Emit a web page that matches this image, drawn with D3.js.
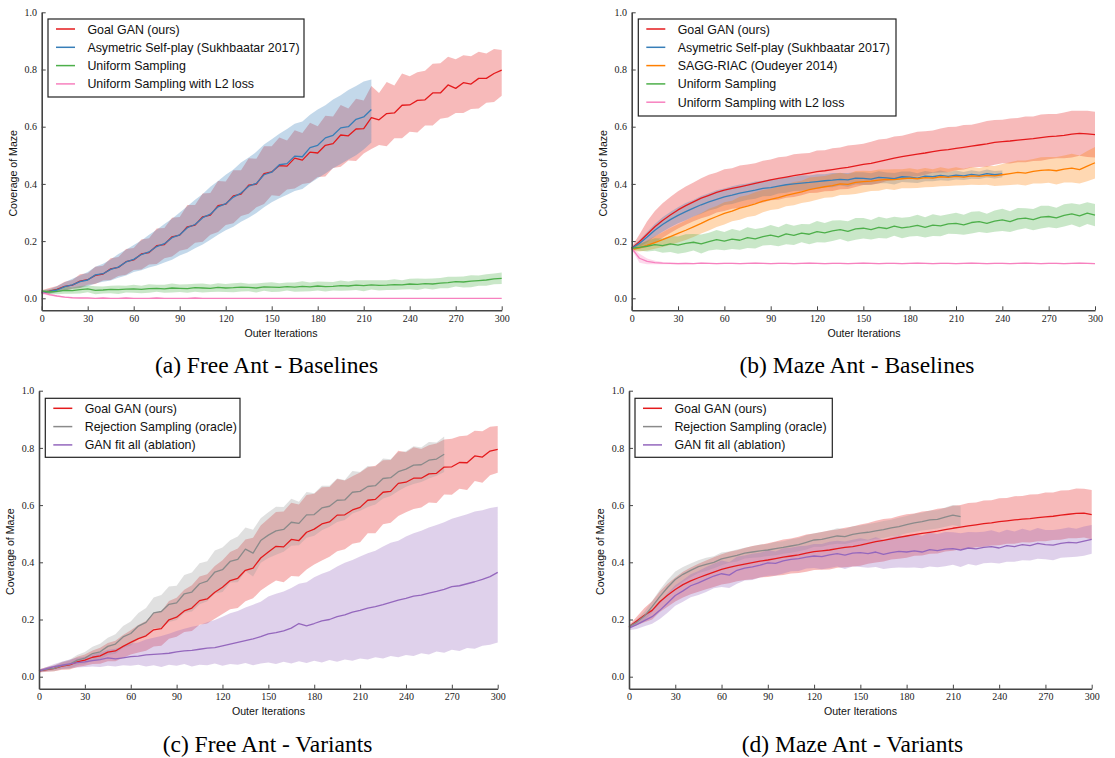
<!DOCTYPE html>
<html>
<head>
<meta charset="utf-8">
<script src="https://cdn.jsdelivr.net/npm/d3@7"></script>
<style>
  html, body { margin: 0; padding: 0; background: #fff; }
  svg { display: block; }
</style>
</head>
<body>
<svg id="chart" width="1115" height="758"></svg>
<script>
// ---------------- DATA ----------------
// Values sampled every 5 outer iterations (index i -> iteration i*5)
const ITER_STEP = 5;
const xTickValues = [0, 30, 60, 90, 120, 150, 180, 210, 240, 270, 300];
const yTickValues = [0.0, 0.2, 0.4, 0.6, 0.8, 1.0];
const xAxisTitle = "Outer Iterations";
const yAxisTitle = "Coverage of Maze";

// ---- (a) Free Ant - Baselines ----
const aGoalMean = [.020,.025,.031,.042,.046,.060,.065,.080,.085,.103,
  .108,.128,.134,.155,.160,.184,.188,.215,.221,.250,
  .256,.285,.291,.324,.329,.358,.364,.396,.399,.436,
  .442,.464,.462,.490,.483,.511,.508,.535,.541,.571,
  .568,.592,.593,.632,.624,.646,.648,.675,.676,.692,
  .694,.718,.718,.746,.734,.754,.749,.769,.769,.786,.798];
const aGoalHi = [.028,.036,.043,.058,.064,.084,.088,.110,.114,.140,
  .144,.172,.176,.206,.210,.244,.246,.282,.284,.326,
  .326,.366,.368,.410,.408,.448,.448,.490,.488,.532,
  .532,.562,.552,.588,.578,.614,.602,.638,.636,.676,
  .664,.698,.692,.742,.718,.756,.744,.786,.776,.790,
  .796,.820,.822,.845,.836,.850,.846,.862,.856,.872,.868];
const aGoalLo = [.014,.016,.024,.026,.033,.036,.047,.050,.062,.064,
  .078,.082,.099,.101,.118,.120,.140,.146,.166,.172,
  .194,.198,.222,.232,.256,.262,.288,.296,.318,.330,
  .360,.358,.380,.384,.400,.404,.424,.426,.456,.460,
  .482,.480,.506,.522,.536,.532,.560,.560,.582,.580,
  .604,.604,.628,.632,.648,.648,.662,.664,.684,.686,.708];
const aAsymMean = [.020,.024,.029,.041,.047,.058,.064,.082,.086,.101,
  .109,.127,.136,.153,.162,.181,.191,.212,.222,.247,
  .258,.282,.294,.320,.331,.354,.368,.392,.402,.432,
  .441,.467,.471,.497,.495,.527,.535,.561,.570,.596,
  .600,.626,.634,.660];
const aAsymHi = [.027,.032,.042,.056,.068,.080,.092,.110,.121,.136,
  .155,.170,.186,.202,.222,.240,.260,.278,.300,.322,
  .345,.365,.390,.410,.432,.450,.475,.492,.512,.538,
  .556,.575,.592,.610,.618,.642,.660,.675,.695,.710,
  .728,.742,.758,.765];
const aAsymLo = [.014,.016,.020,.027,.033,.036,.042,.052,.058,.062,
  .072,.080,.092,.098,.108,.115,.125,.135,.150,.160,
  .175,.188,.205,.222,.238,.250,.268,.282,.298,.318,
  .336,.350,.362,.375,.382,.402,.420,.436,.455,.470,
  .485,.500,.520,.545];
const aUnifMean = [.025,.022,.024,.028,.027,.030,.033,.028,.029,.031,
  .030,.032,.033,.031,.034,.035,.033,.036,.035,.034,
  .037,.036,.035,.038,.036,.037,.039,.038,.036,.040,
  .039,.038,.041,.039,.042,.040,.043,.041,.042,.044,
  .043,.046,.044,.047,.045,.046,.048,.047,.050,.049,
  .051,.050,.053,.055,.058,.057,.060,.062,.064,.068,.070];
const aUnifSd = [.004,.008,.010,.012,.011,.013,.012,.014,.012,.013,
  .015,.012,.014,.013,.015,.012,.014,.016,.013,.015,
  .014,.016,.013,.015,.014,.016,.015,.013,.016,.014,
  .017,.015,.014,.016,.018,.015,.016,.017,.015,.018,
  .016,.017,.019,.016,.018,.017,.019,.016,.018,.020,
  .017,.019,.018,.020,.017,.019,.021,.018,.020,.019,.020];
const aL2Mean = [.020,.013,.008,.004,.002,.001,.001,0,.001,0,
  0,.001,0,0,0,.001,0,0,0,0,
  .001,0,0,0,0,0,0,0,0,0,
  0,0,0,0,0,0,0,0,0,0,
  0,0,0,0,0,0,0,0,0,0,
  0,0,0,0,0,0,0,0,0,0,0];
const aL2Sd = [.004,.004,.003,.002,.002,.002,.001,.001,.001,.001,
  .001,.001,.001,.001,.001,.001,.001,.001,.001,.001,
  .001,.001,.001,.001,.001,.001,.001,.001,.001,.001,
  .001,.001,.001,.001,.001,.001,.001,.001,.001,.001,
  .001,.001,.001,.001,.001,.001,.001,.001,.001,.001,
  .001,.001,.001,.001,.001,.001,.001,.001,.001,.001,.001];

// ---- (b) Maze Ant - Baselines ----
const bGoalMean = [.175,.198,.224,.250,.272,.291,.309,.324,.337,.350,
  .360,.370,.378,.384,.390,.396,.402,.408,.414,.419,
  .424,.429,.433,.438,.443,.446,.450,.454,.458,.463,
  .468,.472,.478,.484,.490,.495,.500,.504,.508,.513,
  .517,.520,.524,.528,.532,.536,.540,.545,.548,.550,
  .553,.556,.558,.562,.565,.567,.570,.574,.577,.575,.572];
const bGoalSd = [.005,.025,.045,.055,.060,.063,.065,.067,.068,.070,
  .072,.070,.073,.071,.074,.072,.070,.073,.071,.074,
  .072,.075,.073,.070,.074,.072,.075,.073,.076,.074,
  .072,.075,.077,.074,.076,.073,.075,.078,.076,.074,
  .077,.079,.076,.078,.075,.077,.080,.078,.076,.079,
  .077,.080,.078,.081,.079,.077,.080,.082,.079,.081,.080];
const bAsymMean = [.175,.192,.214,.238,.258,.275,.290,.303,.315,.327,
  .337,.346,.355,.361,.368,.373,.378,.384,.387,.392,
  .397,.400,.403,.405,.408,.411,.413,.416,.414,.420,
  .419,.417,.423,.421,.418,.425,.424,.420,.427,.425,
  .430,.426,.431,.428,.433,.430,.436,.432,.435];
const bAsymSd = [.004,.012,.018,.022,.025,.027,.028,.030,.029,.031,
  .030,.032,.029,.031,.030,.028,.030,.027,.029,.026,
  .028,.025,.027,.024,.026,.023,.025,.022,.024,.021,
  .022,.020,.021,.019,.020,.018,.019,.017,.018,.016,
  .017,.015,.016,.014,.015,.013,.014,.013,.012];
const bSaggMean = [.170,.176,.185,.195,.205,.216,.227,.238,.250,.262,
  .275,.286,.297,.305,.315,.322,.330,.340,.346,.352,
  .360,.366,.372,.380,.385,.390,.394,.400,.398,.405,
  .408,.410,.413,.416,.415,.418,.420,.418,.422,.420,
  .425,.423,.426,.424,.428,.426,.430,.428,.432,.436,
  .440,.438,.444,.447,.449,.446,.452,.455,.450,.462,.474];
const bSaggSd = [.005,.012,.018,.022,.026,.030,.032,.034,.036,.035,
  .038,.037,.039,.036,.040,.038,.041,.039,.037,.040,
  .038,.041,.039,.042,.040,.038,.041,.039,.036,.040,
  .038,.035,.037,.034,.036,.033,.035,.032,.034,.031,
  .033,.030,.032,.029,.031,.030,.033,.035,.038,.040,
  .042,.044,.043,.046,.045,.048,.047,.050,.049,.053,.055];
const bUnifMean = [.175,.178,.182,.188,.184,.190,.186,.192,.196,.190,
  .198,.205,.200,.207,.203,.212,.208,.216,.221,.215,
  .225,.220,.228,.224,.233,.229,.236,.240,.234,.243,
  .245,.240,.248,.244,.252,.246,.250,.255,.248,.256,
  .253,.260,.262,.257,.265,.268,.262,.270,.274,.268,
  .278,.280,.275,.284,.286,.281,.290,.295,.288,.298,.291];
const bUnifSd = [.005,.012,.018,.022,.025,.028,.030,.032,.029,.033,
  .031,.034,.032,.035,.033,.036,.034,.031,.035,.033,
  .036,.034,.032,.035,.037,.034,.036,.033,.035,.038,
  .036,.034,.037,.035,.033,.036,.034,.037,.035,.038,
  .036,.034,.037,.035,.038,.036,.034,.037,.039,.036,
  .038,.035,.037,.040,.038,.036,.039,.037,.040,.038,.039];
const bL2Mean = [.175,.140,.129,.125,.123,.122,.121,.122,.121,.123,
  .122,.121,.122,.122,.121,.122,.123,.122,.121,.122,
  .122,.121,.122,.123,.122,.121,.122,.122,.121,.122,
  .123,.122,.121,.122,.122,.121,.122,.123,.122,.121,
  .122,.122,.121,.122,.123,.122,.121,.122,.122,.121,
  .122,.123,.122,.121,.122,.122,.121,.122,.123,.122,.121];
const bL2Sd = [.004,.016,.010,.006,.004,.003,.003,.002,.002,.002,
  .002,.002,.002,.002,.002,.002,.002,.002,.002,.002,
  .002,.002,.002,.002,.002,.002,.002,.002,.002,.002,
  .002,.002,.002,.002,.002,.002,.002,.002,.002,.002,
  .002,.002,.002,.002,.002,.002,.002,.002,.002,.002,
  .002,.002,.002,.002,.002,.002,.002,.002,.002,.002,.002];

// ---- (c) Free Ant - Variants ----
const cGoalMean = [.020,.025,.029,.037,.041,.052,.058,.068,.073,.086,
  .090,.106,.120,.133,.143,.164,.168,.199,.208,.230,
  .240,.266,.272,.295,.313,.336,.344,.372,.380,.415,
  .436,.456,.454,.480,.476,.505,.516,.534,.541,.565,
  .566,.583,.592,.617,.620,.645,.648,.676,.680,.694,
  .694,.709,.711,.733,.734,.749,.748,.772,.768,.789,.795];
const cGoalSd = [.005,.008,.010,.013,.016,.018,.020,.024,.028,.032,
  .036,.040,.042,.048,.052,.058,.060,.066,.068,.074,
  .080,.084,.086,.092,.094,.100,.104,.108,.106,.114,
  .116,.120,.124,.128,.126,.130,.124,.128,.122,.126,
  .120,.118,.122,.115,.118,.112,.110,.114,.105,.108,
  .102,.100,.104,.096,.098,.092,.095,.088,.090,.085,.082];
const cRejMean = [.020,.026,.029,.039,.043,.058,.065,.081,.087,.106,
  .114,.139,.151,.177,.190,.223,.228,.253,.258,.290,
  .296,.325,.334,.366,.374,.403,.410,.446,.432,.476,
  .495,.510,.515,.540,.536,.566,.567,.590,.596,.617,
  .618,.645,.648,.665,.668,.693,.696,.717,.726,.740,
  .741,.757,.761,.778];
const cRejSd = [.004,.008,.010,.013,.016,.018,.021,.024,.028,.030,
  .034,.038,.042,.046,.050,.054,.058,.062,.060,.066,
  .068,.072,.070,.075,.078,.074,.080,.076,.082,.078,
  .080,.084,.078,.082,.076,.080,.074,.078,.072,.076,
  .070,.074,.068,.072,.066,.070,.064,.068,.062,.066,
  .060,.064,.058,.062];
const cFitMean = [.020,.028,.035,.040,.045,.049,.052,.056,.060,.066,
  .062,.066,.070,.072,.076,.078,.080,.082,.087,.090,
  .092,.096,.100,.102,.108,.114,.120,.126,.132,.140,
  .150,.154,.160,.170,.186,.178,.186,.195,.200,.210,
  .216,.226,.232,.240,.245,.252,.260,.268,.274,.282,
  .285,.292,.298,.305,.315,.318,.325,.332,.340,.350,.365];
const cFitHi = [.025,.034,.044,.052,.060,.066,.070,.078,.084,.094,
  .098,.106,.115,.120,.130,.136,.142,.150,.160,.168,
  .175,.180,.190,.198,.210,.222,.230,.242,.252,.262,
  .280,.290,.298,.310,.325,.330,.348,.360,.370,.385,
  .398,.408,.420,.432,.440,.455,.468,.475,.490,.502,
  .510,.522,.530,.540,.552,.560,.568,.578,.582,.590,.594];
const cFitLo = [.015,.020,.024,.028,.030,.032,.034,.036,.034,.038,
  .036,.040,.038,.042,.036,.040,.034,.042,.038,.044,
  .036,.042,.040,.046,.038,.044,.042,.048,.040,.046,
  .050,.044,.052,.046,.054,.048,.056,.050,.058,.052,
  .060,.056,.064,.060,.068,.064,.072,.068,.076,.072,
  .082,.078,.088,.084,.094,.090,.100,.098,.108,.112,.120];

// ---- (d) Maze Ant - Variants ----
const dGoalMean = [.175,.195,.215,.232,.262,.285,.305,.322,.335,.346,
  .356,.366,.375,.382,.388,.394,.399,.404,.408,.413,
  .418,.422,.426,.432,.437,.440,.443,.448,.452,.455,
  .460,.466,.472,.477,.482,.487,.492,.497,.501,.505,
  .509,.514,.519,.523,.527,.531,.535,.538,.542,.545,
  .548,.551,.553,.556,.559,.561,.565,.568,.571,.572,.567];
const dGoalSd = [.005,.015,.025,.032,.036,.040,.042,.045,.047,.049,
  .050,.052,.053,.055,.054,.056,.058,.057,.059,.060,
  .062,.061,.063,.065,.064,.066,.068,.067,.069,.070,
  .072,.071,.073,.074,.072,.075,.076,.074,.077,.075,
  .078,.076,.079,.077,.080,.078,.081,.079,.082,.080,
  .083,.081,.084,.082,.085,.083,.086,.084,.087,.085,.086];
const dRejMean = [.175,.190,.212,.245,.280,.312,.340,.358,.372,.385,
  .393,.400,.412,.418,.424,.432,.436,.440,.443,.448,
  .452,.457,.462,.470,.478,.480,.486,.492,.490,.498,
  .502,.505,.510,.514,.520,.525,.532,.538,.542,.548,
  .550,.558,.565,.560];
const dRejSd = [.004,.010,.016,.020,.024,.026,.028,.026,.024,.022,
  .023,.021,.022,.020,.021,.019,.020,.022,.021,.023,
  .022,.024,.023,.025,.024,.026,.025,.027,.026,.028,
  .027,.029,.028,.030,.029,.031,.030,.032,.031,.033,
  .032,.034,.035,.036];
const dFitMean = [.170,.182,.196,.210,.232,.258,.284,.300,.318,.328,
  .340,.352,.360,.355,.372,.380,.384,.390,.398,.396,
  .405,.410,.413,.418,.422,.420,.426,.430,.425,.432,
  .434,.430,.436,.428,.434,.438,.436,.440,.436,.444,
  .441,.446,.448,.443,.450,.447,.452,.455,.450,.458,
  .455,.462,.458,.466,.462,.460,.466,.470,.468,.474,.480];
const dFitSd = [.008,.015,.020,.025,.030,.034,.036,.038,.040,.042,
  .044,.043,.046,.045,.047,.044,.046,.043,.045,.042,
  .044,.041,.043,.040,.042,.044,.046,.045,.048,.047,
  .050,.049,.052,.051,.054,.056,.055,.058,.057,.059,
  .058,.060,.057,.059,.056,.058,.055,.057,.054,.056,
  .053,.055,.052,.054,.051,.053,.050,.052,.049,.051,.050];

// Series names
const nGoal = "Goal GAN (ours)";
const nAsym = "Asymetric Self-play (Sukhbaatar 2017)";
const nSagg = "SAGG-RIAC (Oudeyer 2014)";
const nUnif = "Uniform Sampling";
const nL2 = "Uniform Sampling with L2 loss";
const nRej = "Rejection Sampling (oracle)";
const nFit = "GAN fit all (ablation)";

// ---------------- STYLE ----------------
const C = {
  red: "#e41a1c", blue: "#377eb8", green: "#4daf4a", orange: "#ff7f00",
  pink: "#f781bf", gray: "#8a8a8a", grayBand: "#999999", purple: "#9467bd"
};

function S(name, mean, color, opts) {
  return Object.assign({ name, mean, color, band: color }, opts);
}

const panels = [
  { left: 41.7, right: 501.7, top: 12.3, zero: 298.3,
    caption: "(a) Free Ant - Baselines", capX: 266.5, capY: 373,
    xlabX: 281,
    legend: { x: 48, y: 19, w: 256, h: 78 },
    series: [
      S(nGoal, aGoalMean, C.red, { lo: aGoalLo, hi: aGoalHi }),
      S(nAsym, aAsymMean, C.blue, { lo: aAsymLo, hi: aAsymHi }),
      S(nUnif, aUnifMean, C.green, { sd: aUnifSd }),
      S(nL2, aL2Mean, C.pink, { sd: aL2Sd })
    ] },
  { left: 631.7, right: 1095, top: 12.3, zero: 298.3,
    caption: "(b) Maze Ant - Baselines", capX: 857, capY: 373,
    xlabX: 864,
    legend: { x: 638.3, y: 19, w: 257.7, h: 97 },
    series: [
      S(nGoal, bGoalMean, C.red, { sd: bGoalSd }),
      S(nAsym, bAsymMean, C.blue, { sd: bAsymSd }),
      S(nSagg, bSaggMean, C.orange, { sd: bSaggSd }),
      S(nUnif, bUnifMean, C.green, { sd: bUnifSd }),
      S(nL2, bL2Mean, C.pink, { sd: bL2Sd })
    ] },
  { left: 39, right: 497.7, top: 390.7, zero: 676.7,
    caption: "(c) Free Ant - Variants", capX: 267.5, capY: 752,
    xlabX: 268.5,
    legend: { x: 45.3, y: 398.3, w: 194.7, h: 59 },
    series: [
      S(nGoal, cGoalMean, C.red, { sd: cGoalSd }),
      S(nRej, cRejMean, C.gray, { sd: cRejSd, band: C.grayBand }),
      S(nFit, cFitMean, C.purple, { lo: cFitLo, hi: cFitHi })
    ] },
  { left: 629, right: 1091.7, top: 390.7, zero: 676.7,
    caption: "(d) Maze Ant - Variants", capX: 852.5, capY: 752,
    xlabX: 860.5,
    legend: { x: 635, y: 398.3, w: 197.3, h: 59 },
    series: [
      S(nGoal, dGoalMean, C.red, { sd: dGoalSd }),
      S(nRej, dRejMean, C.gray, { sd: dRejSd, band: C.grayBand }),
      S(nFit, dFitMean, C.purple, { sd: dFitSd })
    ] }
];

// ---------------- DRAW ----------------
const svg = d3.select("#chart");
const Y_MIN = -0.042;
const SANS = "'Liberation Sans', Arial, sans-serif";
const SERIF = "'Liberation Serif', 'Times New Roman', serif";

panels.forEach(p => {
  const x = d3.scaleLinear().domain([0, 300]).range([p.left, p.right]);
  const y = d3.scaleLinear().domain([0, 1]).range([p.zero, p.top]);
  const bottom = y(Y_MIN);
  const g = svg.append("g");

  const rows = s => s.mean.map((m, i) => ({
    it: i * ITER_STEP,
    m,
    lo: s.lo ? s.lo[i] : m - s.sd[i],
    hi: s.hi ? s.hi[i] : m + s.sd[i]
  }));

  const area = d3.area().x(d => x(d.it)).y0(d => y(d.lo)).y1(d => y(d.hi));
  const line = d3.line().x(d => x(d.it)).y(d => y(d.m));

  // bands
  p.series.forEach(s => {
    g.append("path").datum(rows(s))
      .attr("d", area)
      .attr("fill", s.band)
      .attr("fill-opacity", 0.3)
      .attr("stroke", "none");
  });
  // lines
  p.series.forEach(s => {
    g.append("path").datum(rows(s))
      .attr("d", line)
      .attr("fill", "none")
      .attr("stroke", s.color)
      .attr("stroke-width", 1.3)
      .attr("stroke-linejoin", "round");
  });

  // axes
  const xAxis = d3.axisBottom(x).tickValues(xTickValues)
    .tickFormat(d3.format("d")).tickSizeInner(-4).tickSizeOuter(0).tickPadding(4.5);
  const yAxis = d3.axisLeft(d3.scaleLinear().domain([Y_MIN, 1]).range([bottom, p.top]))
    .tickValues(yTickValues).tickFormat(d3.format(".1f"))
    .tickSizeInner(-4).tickSizeOuter(0).tickPadding(4.7);

  const gx = g.append("g").attr("transform", `translate(0,${bottom})`).call(xAxis);
  const gy = g.append("g").attr("transform", `translate(${p.left},0)`).call(yAxis);
  [gx, gy].forEach(ax => {
    ax.select(".domain").attr("stroke", "#444").attr("stroke-width", 1.6);
    ax.selectAll(".tick line").attr("stroke", "#444").attr("stroke-width", 1);
    ax.selectAll(".tick text").attr("fill", "#222")
      .style("font-family", SERIF).style("font-size", "10px");
  });

  // axis titles
  g.append("text").text(xAxisTitle)
    .attr("x", p.xlabX).attr("y", bottom + 26.5)
    .attr("text-anchor", "middle")
    .style("font-family", SANS).style("font-size", "10.6px").attr("fill", "#111");
  const ylx = p.left - 28.4, yly = (p.top + bottom) / 2 + 12;
  g.append("text").text(yAxisTitle)
    .attr("transform", `translate(${ylx},${yly}) rotate(-90)`)
    .attr("text-anchor", "middle").attr("dy", "0.35em")
    .style("font-family", SANS).style("font-size", "10.6px").attr("fill", "#111");

  // legend
  const L = p.legend;
  const lg = g.append("g");
  lg.append("rect").attr("x", L.x).attr("y", L.y).attr("width", L.w).attr("height", L.h)
    .attr("fill", "#fff").attr("stroke", "#222").attr("stroke-width", 1.2);
  p.series.forEach((s, i) => {
    const cy = L.y + 10 + i * 18.3;
    lg.append("line").attr("x1", L.x + 8).attr("x2", L.x + 27)
      .attr("y1", cy).attr("y2", cy)
      .attr("stroke", s.color).attr("stroke-width", 1.5);
    lg.append("text").text(s.name)
      .attr("x", L.x + 39.4).attr("y", cy + 4.5)
      .style("font-family", SANS).style("font-size", "12.4px").attr("fill", "#111");
  });

  // caption
  svg.append("text").text(p.caption)
    .attr("x", p.capX).attr("y", p.capY)
    .attr("text-anchor", "middle")
    .style("font-family", SERIF).style("font-size", "23.5px").attr("fill", "#000");
});
</script>
</body>
</html>
